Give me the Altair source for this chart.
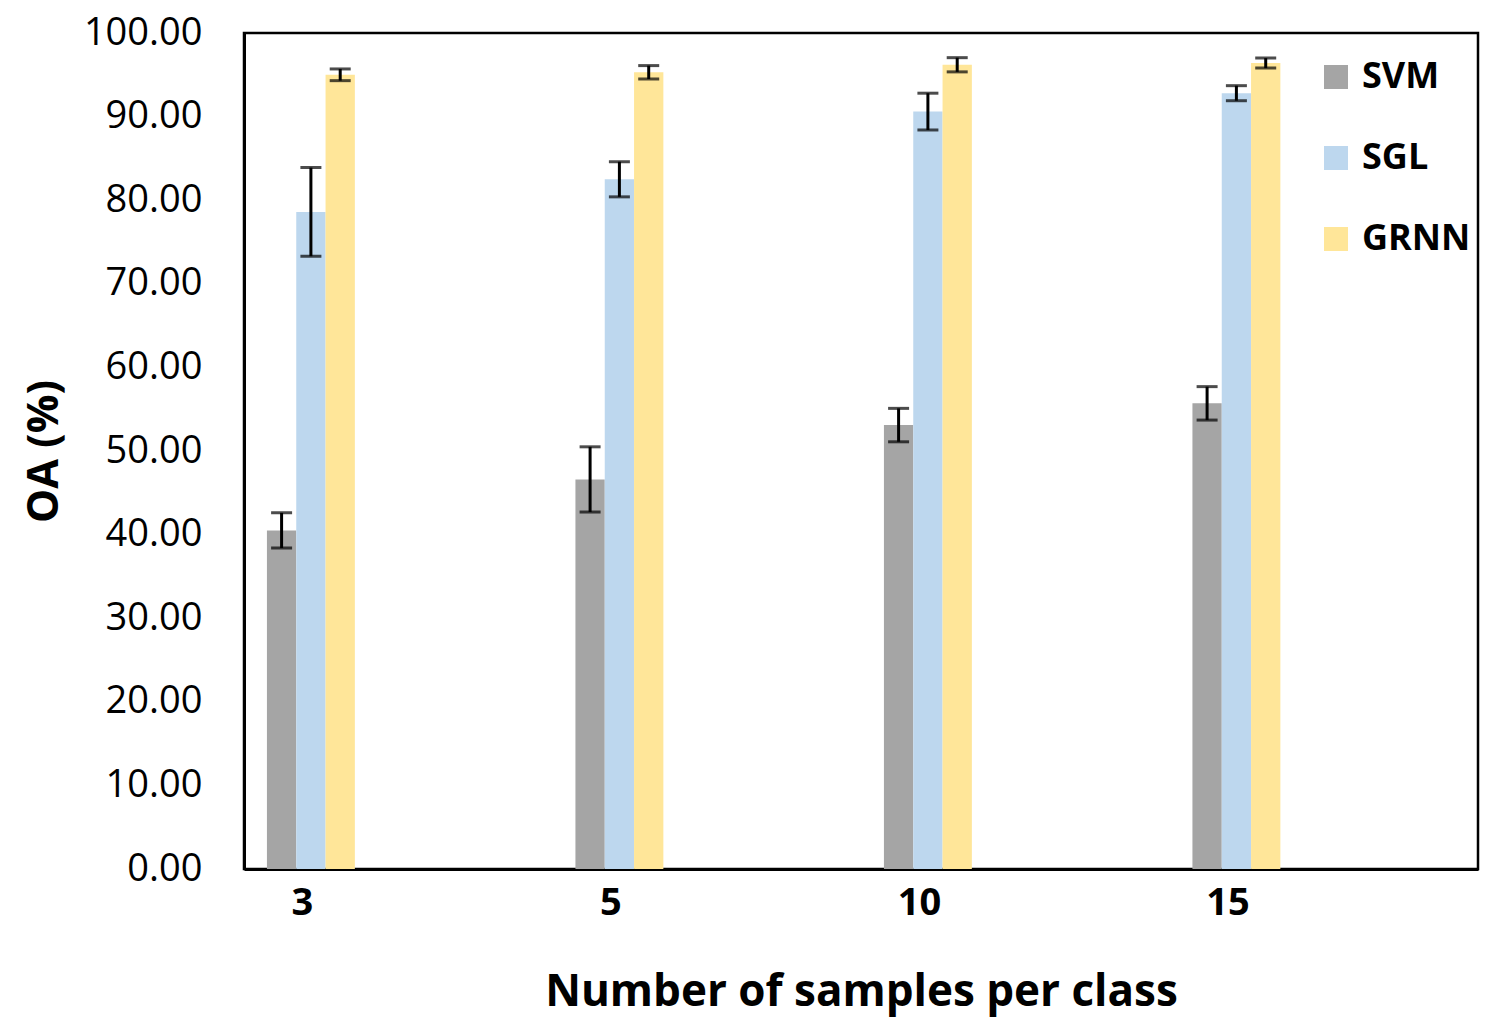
import altair as alt
import pandas as pd

categories = ["3", "5", "10", "15"]
methods = ["SVM", "SGL", "GRNN"]
svm_mean = [40.5, 46.6, 53.1, 55.7]
svm_err = [2.1, 3.9, 2.0, 2.0]
sgl_mean = [78.6, 82.5, 90.6, 92.8]
sgl_err = [5.3, 2.1, 2.2, 0.9]
grnn_mean = [95.0, 95.3, 96.2, 96.4]
grnn_err = [0.7, 0.8, 0.85, 0.6]
colors = ["#A5A5A5", "#BDD7EE", "#FFE699"]
y_ticks = [0, 10, 20, 30, 40, 50, 60, 70, 80, 90, 100]

means = {"SVM": svm_mean, "SGL": sgl_mean, "GRNN": grnn_mean}
errs = {"SVM": svm_err, "SGL": sgl_err, "GRNN": grnn_err}
rows = []
for m in methods:
    for i, c in enumerate(categories):
        rows.append({"samples": c, "method": m, "oa": means[m][i],
                     "lo": means[m][i] - errs[m][i], "hi": means[m][i] + errs[m][i]})
df = pd.DataFrame(rows)

FONT = "Open Sans"

x_enc = alt.X("samples:N", sort=categories,
              scale=alt.Scale(paddingInner=0.715, paddingOuter=0.3575, align=0.104),
              axis=alt.Axis(title="Number of samples per class", labelAngle=0,
                            labelFontSize=38, labelFontWeight="bold", labelColor="black",
                            labelFont=FONT, labelPadding=15, tickOffset=-9,
                            ticks=False, domainColor="black", domainWidth=3,
                            titleFont=FONT, titleFontSize=44, titleFontWeight="bold",
                            titleColor="black", titlePadding=48))
xo_enc = alt.XOffset("method:N", sort=methods, scale=alt.Scale(paddingInner=0, paddingOuter=0))

base = alt.Chart(df)

bars = base.mark_bar(opacity=1).encode(
    x=x_enc,
    xOffset=xo_enc,
    y=alt.Y("oa:Q", scale=alt.Scale(domain=[0, 100], nice=False),
            axis=alt.Axis(title="OA (%)", values=y_ticks, format=".2f", grid=False,
                          ticks=False, labelFontSize=38, labelFont=FONT, labelColor="black",
                          labelPadding=42, domainColor="black", domainWidth=3,
                          titleFont=FONT, titleFontSize=43, titleFontWeight="bold",
                          titleColor="black", titlePadding=17)),
    color=alt.Color("method:N", sort=methods,
                    scale=alt.Scale(domain=methods, range=colors),
                    legend=alt.Legend(orient="none", legendX=1074, legendY=26, title=None,
                                      symbolType="square", symbolSize=576,
                                      symbolStrokeWidth=0, labelFontSize=36,
                                      labelFontWeight="bold", labelFont=FONT,
                                      labelColor="black", rowPadding=45,
                                      labelOffset=8, padding=0)),
)

rules = base.mark_rule(color="black", strokeWidth=3).encode(
    x=alt.X("samples:N", sort=categories),
    xOffset=alt.XOffset("method:N", sort=methods),
    y="lo:Q",
    y2="hi:Q",
)

caps_lo = base.mark_tick(color="black", size=21, thickness=3).encode(
    x=alt.X("samples:N", sort=categories),
    xOffset=alt.XOffset("method:N", sort=methods),
    y="lo:Q",
)
caps_hi = base.mark_tick(color="black", size=21, thickness=3).encode(
    x=alt.X("samples:N", sort=categories),
    xOffset=alt.XOffset("method:N", sort=methods),
    y="hi:Q",
)

chart = alt.layer(bars, rules, caps_lo, caps_hi).properties(
    width=1234, height=836,
    background="white",
    autosize=alt.AutoSizeParams(type="none"),
    padding={"left": 236, "top": 25, "right": 14, "bottom": 155},
).configure_view(stroke="black", strokeWidth=2.5)

chart.save("out.html", embed_options={"renderer": "svg", "actions": False})
